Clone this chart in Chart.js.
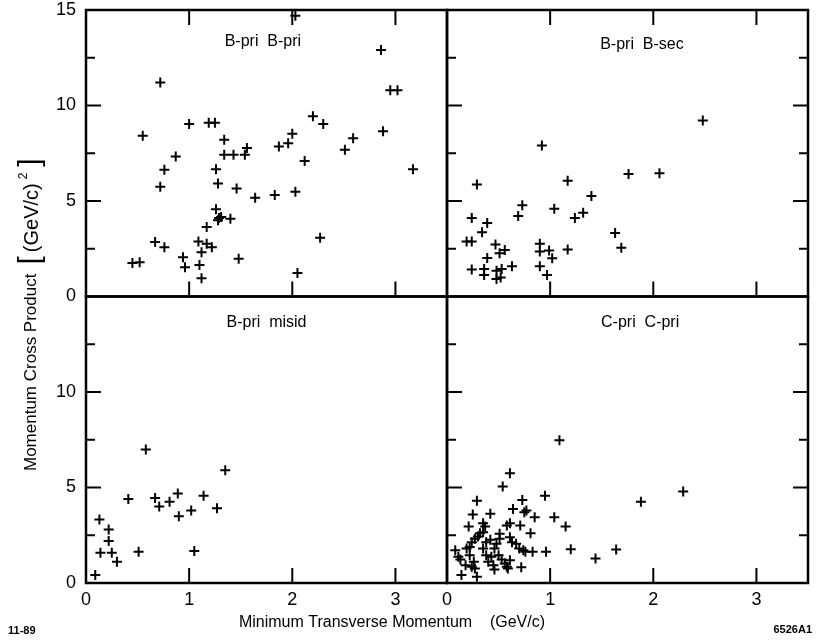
<!DOCTYPE html>
<html>
<head>
<meta charset="utf-8">
<script src="https://cdn.jsdelivr.net/npm/chart.js@4.4.1/dist/chart.umd.min.js"></script>
<style>
  body { margin: 0; background: #fff; }
  #wrap { position: relative; width: 818px; height: 643px; }
</style>
</head>
<body>
<div id="wrap"><canvas id="myChart" width="818" height="643"></canvas></div>
<script>
// B-pri B-pri
const bbX = [2.03,2.86,0.72,2.95,3.02,2.20,2.30,1.00,1.19,1.25,0.55,2.88,2.00,1.96,1.87,2.59,2.51,1.34,1.56,1.34,1.43,1.54,0.87,0.76,0.72,1.26,1.28,1.46,2.12,3.17,1.64,1.83,2.03,1.26,1.29,1.28,1.31,1.40,1.17,2.27,0.67,0.76,1.09,1.17,1.22,1.12,0.94,0.96,1.10,1.12,1.48,2.05,0.45,0.52];
const bbY = [14.7,12.9,11.2,10.8,10.8,9.44,9.03,9.03,9.1,9.1,8.42,8.65,8.52,8.03,7.85,8.29,7.68,8.21,7.77,7.42,7.42,7.42,7.33,6.63,5.75,6.66,5.92,5.66,7.1,6.66,5.17,5.31,5.48,4.57,4.11,3.99,4.16,4.07,3.64,3.07,2.85,2.58,2.88,2.76,2.58,2.32,2.06,1.53,1.65,0.96,1.97,1.23,1.76,1.79];
// B-pri B-sec
const bsX = [2.48,0.92,1.76,2.06,0.29,1.17,1.40,0.73,0.69,1.04,1.24,1.32,0.24,0.39,0.34,0.19,0.24,1.63,1.69,0.47,0.51,0.56,0.90,0.90,0.99,1.02,1.17,0.39,0.24,0.36,0.36,0.48,0.53,0.48,0.52,0.63,0.90,0.97];
const bsY = [9.21,7.91,6.41,6.45,5.87,6.06,5.26,4.78,4.22,4.60,4.11,4.39,4.11,3.85,3.37,2.88,2.88,3.32,2.55,2.72,2.27,2.44,2.76,2.36,2.41,2.0,2.46,2.02,1.41,1.44,1.12,1.35,1.44,0.91,1.0,1.58,1.58,1.12];
// B-pri misid
const bmX = [0.58,1.35,0.41,0.67,0.71,0.81,0.89,0.90,1.02,1.14,1.27,0.13,0.22,0.22,0.14,0.25,0.30,0.51,1.05,0.09];
const bmY = [6.99,5.9,4.40,4.45,4.01,4.26,4.69,3.49,3.79,4.57,3.91,3.32,2.80,2.20,1.59,1.59,1.11,1.63,1.68,0.42];
// C-pri C-pri
const ccX = [1.09,0.61,0.54,2.29,1.88,0.95,0.29,0.73,0.25,0.42,0.64,0.75,0.77,0.85,1.04,1.15,0.21,0.35,0.37,0.61,0.71,0.58,0.81,0.32,0.35,0.27,0.30,0.51,0.51,0.42,0.61,0.63,0.24,0.22,0.19,0.38,0.35,0.48,0.46,0.67,0.70,0.74,0.76,0.83,0.96,1.20,1.64,1.44,0.08,0.13,0.11,0.18,0.14,0.26,0.27,0.29,0.22,0.24,0.38,0.40,0.45,0.46,0.53,0.56,0.58,0.61,0.59,0.72,0.50,0.43];
const ccY = [7.48,5.75,5.05,4.79,4.26,4.57,4.31,4.35,3.58,3.62,3.88,3.70,3.79,3.44,3.44,2.96,2.96,3.13,2.96,3.13,3.01,3.01,2.61,2.61,2.66,2.32,2.44,2.58,2.32,2.27,2.40,2.14,2.14,1.88,1.80,2.14,1.80,2.06,1.80,2.06,1.80,1.71,1.63,1.63,1.63,1.77,1.75,1.28,1.71,1.23,1.37,0.93,0.42,1.11,0.76,0.33,1.45,0.85,1.45,1.11,0.93,0.71,1.23,1.02,0.85,1.19,0.76,0.82,1.45,1.37];

const xTicks = [1, 2, 3];
const yTicks = [2.5, 5, 7.5, 10, 12.5];
const font = "'Liberation Sans', Arial, sans-serif";

function pts(xs, ys) { return xs.map((x, i) => ({ x: x, y: ys[i] })); }

// panel boxes, labels and which sides get inward ticks
const panels = [
  { label: 'B-pri  B-pri', x: 'xL', y: 'yT', lx: 0.49, ly: 0.11, top: true, right: false },
  { label: 'B-pri  B-sec', x: 'xR', y: 'yT', lx: 0.54, ly: 0.12, top: true, right: true },
  { label: 'B-pri  misid', x: 'xL', y: 'yB', lx: 0.50, ly: 0.09, top: false, right: false },
  { label: 'C-pri  C-pri', x: 'xR', y: 'yB', lx: 0.535, ly: 0.09, top: false, right: true }
];

function line(c, x1, y1, x2, y2) { c.beginPath(); c.moveTo(x1, y1); c.lineTo(x2, y2); c.stroke(); }

const framePlugin = {
  id: 'frame',
  afterDraw(chart) {
    const c = chart.ctx, s = chart.scales;
    c.save();
    c.strokeStyle = '#000';
    c.fillStyle = '#000';
    panels.forEach(p => {
      const xs = s[p.x], ys = s[p.y];
      c.lineWidth = 2.5;
      c.strokeRect(xs.left, ys.top, xs.right - xs.left, ys.bottom - ys.top);
      c.lineWidth = 2;
      xTicks.forEach(v => {
        const px = xs.getPixelForValue(v);
        line(c, px, ys.bottom, px, ys.bottom - 15);
        if (p.top) line(c, px, ys.top, px, ys.top + 15);
      });
      yTicks.forEach(v => {
        const py = ys.getPixelForValue(v);
        const len = v % 5 ? 9 : 15;
        line(c, xs.left, py, xs.left + len, py);
        if (p.right) line(c, xs.right, py, xs.right - len, py);
      });
      c.font = '16px ' + font;
      c.textAlign = 'center';
      c.textBaseline = 'middle';
      c.fillText(p.label, xs.left + p.lx * (xs.right - xs.left), ys.top + p.ly * (ys.bottom - ys.top));
    });
    // x title
    c.font = '16px ' + font;
    c.textAlign = 'center';
    c.textBaseline = 'middle';
    c.fillText('Minimum Transverse Momentum    (GeV/c)', 392, 623);
    // y title, drawn upward from the bottom
    c.save();
    c.translate(31, 471);
    c.rotate(-Math.PI / 2);
    c.textAlign = 'left';
    const part = (txt, size, at, dy) => { c.font = size + 'px ' + font; c.fillText(txt, at, dy || 0); return at + c.measureText(txt).width; };
    let at = part('Momentum Cross Product', 17, 0);
    at = part('[', 30, at + 9);
    at = part('(GeV/c)', 20, at + 4, 1);
    at = part('2', 12, at + 4, -7);
    part(']', 30, at + 6);
    c.restore();
    c.font = 'bold 11px ' + font;
    c.textAlign = 'left';
    c.fillText('11-89', 8, 631);
    c.textAlign = 'right';
    c.fillText('6526A1', 812, 630);
    c.restore();
  }
};

function xScale() {
  return {
    type: 'linear', position: 'bottom', stack: 'x', stackWeight: 1, min: 0, max: 3.5,
    grid: { display: false, drawTicks: false }, border: { display: false },
    ticks: { stepSize: 1, includeBounds: false, padding: 6, color: '#000', font: { family: font, size: 18 },
      callback: v => Number.isInteger(v) ? v : '' },
    afterFit: sc => { sc.height = 28; sc.paddingLeft = 0; sc.paddingRight = 0; }
  };
}
function yScale(hideTop) {
  return {
    type: 'linear', position: 'left', stack: 'y', stackWeight: 1, min: 0, max: 15,
    grid: { display: false, drawTicks: false }, border: { display: false },
    ticks: { stepSize: 5, padding: 10, color: '#000', font: { family: font, size: 18 },
      callback: v => (hideTop && v === 15) ? '' : v },
    afterFit: sc => { sc.width = 42; sc.paddingTop = 0; sc.paddingBottom = 0; }
  };
}

const ctx = document.getElementById('myChart');
const myChart = new Chart(ctx, {
  type: 'scatter',
  data: {
    datasets: [
      { label: 'B-pri B-pri', data: pts(bbX, bbY), xAxisID: 'xL', yAxisID: 'yT' },
      { label: 'B-pri B-sec', data: pts(bsX, bsY), xAxisID: 'xR', yAxisID: 'yT' },
      { label: 'B-pri misid', data: pts(bmX, bmY), xAxisID: 'xL', yAxisID: 'yB' },
      { label: 'C-pri C-pri', data: pts(ccX, ccY), xAxisID: 'xR', yAxisID: 'yB' }
    ]
  },
  options: {
    responsive: false,
    animation: false,
    devicePixelRatio: 1,
    layout: { padding: { left: 44, right: 10, top: 10, bottom: 32 } },
    plugins: { legend: { display: false }, tooltip: { enabled: false } },
    elements: { point: { pointStyle: 'cross', radius: 5, borderWidth: 2, borderColor: '#000', backgroundColor: '#000' } },
    scales: { xL: xScale(), xR: xScale(), yB: yScale(true), yT: yScale(false) }
  },
  plugins: [framePlugin]
});
</script>
</body>
</html>
